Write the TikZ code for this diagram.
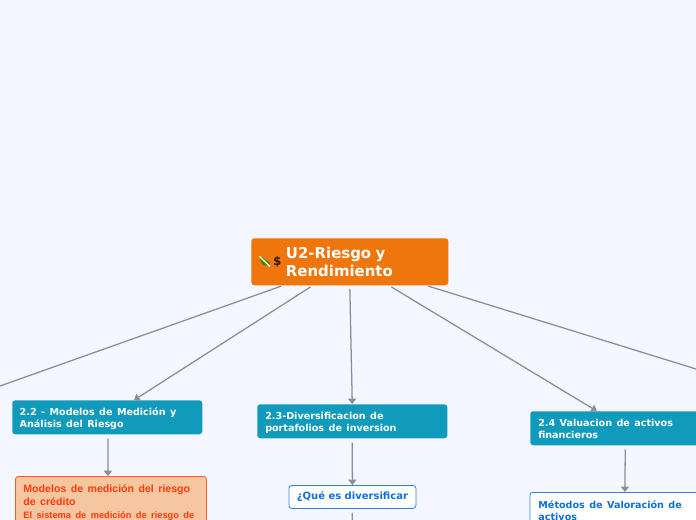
\documentclass[tikz,border=0pt]{standalone}
\usepackage{fontspec}
\setmainfont{DejaVu Sans}
\newfontfamily\redfont{Liberation Sans}
\usetikzlibrary{arrows.meta}
\definecolor{bgc}{HTML}{F4F7FF}
\definecolor{rootc}{HTML}{EF760C}
\definecolor{topicc}{HTML}{109BBD}
\definecolor{linec}{HTML}{8B8D98}
\definecolor{redc}{HTML}{FF3A0A}
\definecolor{redb}{HTML}{FF5A2A}
\definecolor{peach}{HTML}{F5C6A0}
\definecolor{bluet}{HTML}{0F6FD8}
\definecolor{blueb}{HTML}{2A80E8}
\tikzset{
  x=0.75pt,y=-0.75pt,
  boxbase/.style={anchor=north west,rounded corners=2.2pt,inner xsep=0pt,inner ysep=0pt,align=left,font=\bfseries},
  rootbox/.style={boxbase,fill=rootc,text=white,minimum width=147.75pt,minimum height=35.25pt},
  topicbox/.style={boxbase,fill=topicc,text=white,minimum width=142.5pt,minimum height=25.5pt},
  redbox/.style={boxbase,fill=peach,draw=redb,line width=0.6pt,text=redc,minimum width=143.25pt},
  bluebox/.style={boxbase,fill=white,draw=blueb,line width=0.6pt,text=bluet},
  link/.style={draw=linec,line width=0.95pt,-{Triangle[length=4pt,width=6pt]}},
  plainlink/.style={draw=linec,line width=0.95pt},
}
\begin{document}
\begin{tikzpicture}
\useasboundingbox (0,0) rectangle (696,520);
\clip (0,0) rectangle (696,520);
\fill[bgc] (0,0) rectangle (696,520);
% nodes
\node[rootbox,text width=147.75pt] (root) at (251,238) {\hspace{26pt}\parbox[c][35.25pt][c]{115pt}{\fontsize{11.2pt}{13.6pt}\selectfont U2-Riesgo y\\Rendimiento}};
\node[topicbox,text width=142.5pt] (n22) at (12,400) {\hspace{5.6pt}\parbox[c][25.5pt][c]{135pt}{\vspace{1.5pt}\fontsize{7.2pt}{9pt}\selectfont 2.2 - Modelos de Medición y\\Análisis del Riesgo}};
\node[topicbox,text width=142.5pt] (n23) at (257,404) {\hspace{6pt}\parbox[c][25.5pt][c]{135pt}{\vspace{2.5pt}\fontsize{7.2pt}{9pt}\selectfont 2.3-Diversificacion de\\portafolios de inversion}};
\node[topicbox,text width=142.5pt] (n24) at (530,411) {\hspace{6pt}\parbox[c][25.5pt][c]{135pt}{\vspace{1.5pt}\fontsize{7.2pt}{9pt}\selectfont 2.4 Valuacion de activos\\financieros}};
\node[redbox,text width=143.25pt,minimum height=39pt] (m1) at (15,476) {\hspace{6pt}\parbox[c][39pt][c]{135pt}{\redfont\fontsize{7.95pt}{9.6pt}\selectfont Modelos de medición del riesgo\\de crédito\\{\fontsize{6.95pt}{9.6pt}\selectfont El sistema de medición de riesgo de}}};
\node[bluebox,minimum width=95.25pt,minimum height=17.25pt,anchor=north west,align=center] (q) at (288.5,485) {\fontsize{7.5pt}{9pt}\selectfont ¿Qué es diversificar};
\node[bluebox,text width=142.5pt,minimum height=27pt] (v) at (529.5,492) {\hspace{6.4pt}\parbox[c][27pt][c]{135pt}{\fontsize{7.2pt}{9pt}\selectfont Métodos de Valoración de\\activos}};
% icons
\node[inner sep=0pt,text=black!80!rootc,font=\bfseries\fontsize{9pt}{10pt}\selectfont] (dollar) at (277.3,261.5) {\$};
\fill[green!55!black!80!rootc,rounded corners=1pt] (259,258) -- (263,257) -- (265,260) -- (270,262) -- (269,266) -- (263,265) -- cycle;
\draw[white!90!rootc,line width=1.1pt] (259.5,256.5) -- (270,266.5);
% off-canvas ends
\coordinate (left) at (0,386);
\coordinate (right) at (696,369);
\coordinate (below) at (352,530);
% connectors
\draw[plainlink,shorten <=1.5pt] (root) -- (left);
\draw[plainlink,shorten <=1.5pt] (root) -- (right);
\draw[link,shorten <=2pt] (root) -- (n22);
\draw[link,shorten <=2.5pt] (root.south) -- (n23.north);
\draw[link,shorten <=2pt] (root) -- (n24);
\draw[link,shorten <=3pt] ([xshift=0.5pt]n22.south) -- ([xshift=-2.2pt]m1.north);
\draw[link,shorten <=3pt] (n23.south) -- (q.north);
\draw[plainlink,shorten <=3pt] (q.south) -- (below);
\draw[link,shorten <=3pt] (n24.south) -- (v.north);
\end{tikzpicture}
\end{document}
